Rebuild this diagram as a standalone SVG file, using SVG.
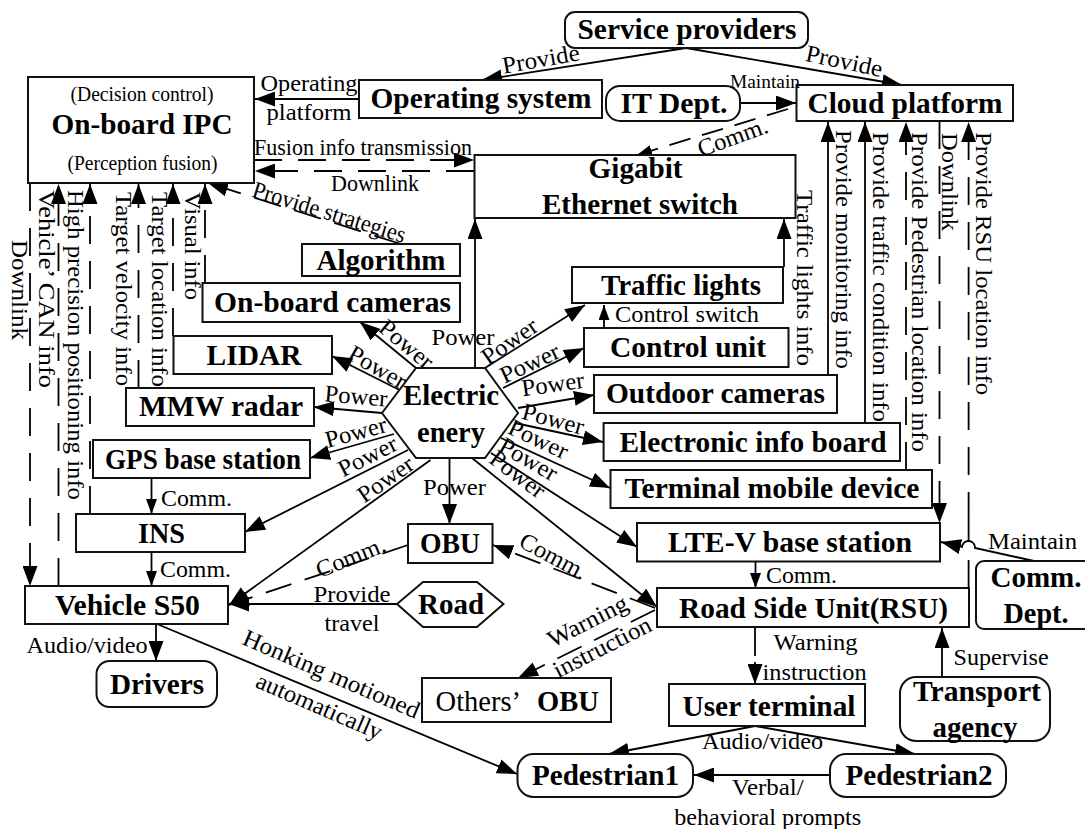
<svg xmlns="http://www.w3.org/2000/svg" width="1085" height="829" viewBox="0 0 1085 829">
<style>
text{font-family:"Liberation Serif","Times New Roman",serif;fill:#000}
.b{font-weight:bold;font-size:30px;text-anchor:middle}
.r{font-size:24px;text-anchor:middle}
.s{font-size:21px;text-anchor:middle}
.l{font-size:24px;text-anchor:start}
.v{font-size:22.5px;text-anchor:start}
.box{fill:#fff;stroke:#111;stroke-width:2}
.c{fill:none;stroke:#000;stroke-width:1.8}
.big{marker-end:url(#big)}
.sm{marker-end:url(#sm)}
.d{stroke-dasharray:28 17}
.d2{stroke-dasharray:27 14}
</style>
<defs>
<marker id="big" markerUnits="userSpaceOnUse" markerWidth="21" markerHeight="15" refX="20" refY="7.5" orient="auto"><path d="M0,0L20,7.5L0,15Z" fill="#000"/></marker>
<marker id="sm" markerUnits="userSpaceOnUse" markerWidth="16" markerHeight="11" refX="15" refY="5.5" orient="auto"><path d="M0,0L15,5.5L0,11Z" fill="#000"/></marker>
</defs>
<rect width="1085" height="829" fill="#fff"/>
<g id="connectors">
<path class="c big" d="M686,48L482,80"/>
<path class="c big" d="M686,48L902,85"/>
<path class="c big" d="M359,99L255,99"/>
<path class="c big" d="M740,103L796,103"/>
<path class="c sm" stroke-dasharray="22 12" d="M788,109L637,155"/>
<path class="c big" stroke-dasharray="28 16" d="M254,160L474,160"/>
<path class="c big" stroke-dasharray="28 16" d="M474,171L255,171"/>
<path class="c big" stroke-dasharray="28 14" d="M401,244L208,183"/>
<path class="c big d" d="M30,183L30,586"/>
<path class="c big d" d="M58.5,586L58.5,184"/>
<path class="c big d" d="M90,514L90,184"/>
<path class="c big d" d="M138.5,388L138.5,184"/>
<path class="c big d" d="M173,336L173,184"/>
<path class="c big d" d="M205,283L205,184"/>
<path class="c big" d="M475,368L475,219"/>
<path class="c big" d="M784,267L784,219"/>
<path class="c big" d="M828,375L828,122"/>
<path class="c big" d="M865,423L865,122"/>
<path class="c big d" d="M906,470L906,122"/>
<path class="c big d" d="M939.5,121L939.5,523"/>
<path class="c d" d="M968.6,588L968.6,550"/>
<path class="c" d="M968.6,541.5L968.6,520"/>
<path class="c big d" d="M968.6,520L968.6,122"/>
<path class="c big" d="M416,368L360,322"/>
<path class="c big" d="M399.5,390L332,356"/>
<path class="c big" d="M382,413L314,407"/>
<path class="c big" d="M394,434L310,458"/>
<path class="c big" d="M408,450L245,532"/>
<path class="c big" d="M430.5,460L229,605"/>
<path class="c big" d="M449.5,458L449.5,524"/>
<path class="c big d2" d="M408,545L229,605"/>
<path class="c big" d="M397,604L229,604"/>
<path class="c big" d="M156,624L156,661"/>
<path class="c big" d="M157,624L517,774"/>
<path class="c big" d="M485,368L585,305"/>
<path class="c big" d="M503,388L584,348"/>
<path class="c big" d="M518,408L594,395"/>
<path class="c big" d="M515,423L603,442"/>
<path class="c big" d="M501,438L610,488"/>
<path class="c big" d="M491,453L637,547"/>
<path class="c big" d="M472,458L657,607"/>
<path class="c big d2" d="M655,608L493,545"/>
<path class="c big d2" d="M655,610L518,678"/>
<path class="c sm" d="M604,328L604,305"/>
<path class="c sm" d="M151.5,478L151.5,514"/>
<path class="c sm" d="M151.5,552L151.5,586"/>
<path class="c sm" d="M755.5,561L755.5,588"/>
<path class="c" d="M755,627L755,656"/>
<path class="c big" d="M755,662L755,684"/>
<path class="c big" d="M942,677L942,628"/>
<path class="c big" d="M755,726L609,754"/>
<path class="c big" d="M755,726L915,754"/>
<path class="c big" d="M830,775L694,775"/>
<path class="c big" d="M1034,561L975,548A6.5,6.5 0 0 0 962,547L941,542"/>
</g>
<g id="ipc"><rect class="box" x="28" y="77" width="226" height="106"/>
<text class="s" x="142" y="101" textLength="143" lengthAdjust="spacingAndGlyphs">(Decision control)</text>
<text class="b" x="142" y="134" textLength="181" lengthAdjust="spacingAndGlyphs">On-board IPC</text>
<text class="s" x="142.4" y="170" textLength="150" lengthAdjust="spacingAndGlyphs">(Perception fusion)</text></g>
<g id="operating-system"><rect class="box" x="359" y="80" width="243" height="38"/><text class="b" x="481" y="108" textLength="221" lengthAdjust="spacingAndGlyphs">Operating system</text></g>
<g id="service-providers"><rect class="box" x="565" y="12" width="243" height="36" rx="10"/><text class="b" x="687" y="39" textLength="219" lengthAdjust="spacingAndGlyphs">Service providers</text></g>
<g id="it-dept"><rect class="box" x="606" y="86" width="134" height="35" rx="14"/><text class="b" x="674" y="113" textLength="107" lengthAdjust="spacingAndGlyphs">IT Dept.</text></g>
<g id="cloud-platform"><rect class="box" x="796.5" y="85" width="216.5" height="36"/><text class="b" x="905" y="113" textLength="195" lengthAdjust="spacingAndGlyphs">Cloud platform</text></g>
<g id="gigabit"><rect class="box" x="474.5" y="155" width="321" height="63"/><text class="b" x="635.6" y="178" textLength="94" lengthAdjust="spacingAndGlyphs">Gigabit</text><text class="b" x="640" y="214" textLength="196" lengthAdjust="spacingAndGlyphs">Ethernet switch</text></g>
<g id="algorithm"><rect class="box" x="302" y="244" width="158" height="32"/><text class="b" x="381" y="270" textLength="129" lengthAdjust="spacingAndGlyphs">Algorithm</text></g>
<g id="onboard-cameras"><rect class="box" x="202.5" y="283" width="257.5" height="39"/><text class="b" x="332.6" y="312" textLength="237" lengthAdjust="spacingAndGlyphs">On-board cameras</text></g>
<g id="lidar"><rect class="box" x="173.5" y="336" width="158.5" height="38"/><text class="b" x="254" y="365" textLength="95" lengthAdjust="spacingAndGlyphs">LIDAR</text></g>
<g id="mmw-radar"><rect class="box" x="126" y="388" width="188" height="38"/><text class="b" x="221" y="416" textLength="164" lengthAdjust="spacingAndGlyphs">MMW radar</text></g>
<g id="gps"><rect class="box" x="93" y="440" width="217" height="38"/><text class="b" x="203" y="469" textLength="196" lengthAdjust="spacingAndGlyphs">GPS base station</text></g>
<g id="ins"><rect class="box" x="76" y="514" width="169" height="38"/><text class="b" x="161.5" y="543" textLength="47" lengthAdjust="spacingAndGlyphs">INS</text></g>
<g id="vehicle"><rect class="box" x="25" y="586" width="203" height="38"/><text class="b" x="127.4" y="615" textLength="145" lengthAdjust="spacingAndGlyphs">Vehicle S50</text></g>
<g id="drivers"><rect class="box" x="96.5" y="661" width="120.5" height="46" rx="13"/><text class="b" x="157" y="694" textLength="94" lengthAdjust="spacingAndGlyphs">Drivers</text></g>
<g id="electric"><path class="box" d="M382,413L416,368L485,368L518,413L485,458L416,458Z"/><text class="b" x="451" y="405" textLength="96" lengthAdjust="spacingAndGlyphs">Electric</text><text class="b" x="451" y="442" textLength="68" lengthAdjust="spacingAndGlyphs">enery</text></g>
<g id="obu"><rect class="box" x="408" y="524" width="84.5" height="39"/><text class="b" x="450" y="553" textLength="60" lengthAdjust="spacingAndGlyphs">OBU</text></g>
<g id="road"><path class="box" d="M397,604L423,582L477,582L503.5,604L477,627L423,627Z"/><text class="b" x="451" y="614" textLength="66" lengthAdjust="spacingAndGlyphs">Road</text></g>
<g id="traffic-lights"><rect class="box" x="572" y="267" width="211" height="36"/><text class="b" x="681" y="295" textLength="160" lengthAdjust="spacingAndGlyphs">Traffic lights</text></g>
<g id="control-unit"><rect class="box" x="584" y="328" width="204.5" height="39"/><text class="b" x="688" y="357" textLength="156" lengthAdjust="spacingAndGlyphs">Control unit</text></g>
<g id="outdoor-cameras"><rect class="box" x="594" y="375" width="243" height="38"/><text class="b" x="715.5" y="403" textLength="219" lengthAdjust="spacingAndGlyphs">Outdoor cameras</text></g>
<g id="info-board"><rect class="box" x="603.6" y="423" width="296.4" height="38"/><text class="b" x="753" y="452" textLength="267" lengthAdjust="spacingAndGlyphs">Electronic info board</text></g>
<g id="terminal"><rect class="box" x="610.5" y="470" width="321.5" height="38"/><text class="b" x="772" y="498" textLength="295" lengthAdjust="spacingAndGlyphs">Terminal mobile device</text></g>
<g id="lte"><rect class="box" x="637" y="523" width="303" height="38.5"/><text class="b" x="790" y="552" textLength="244" lengthAdjust="spacingAndGlyphs">LTE-V base station</text></g>
<g id="rsu"><rect class="box" x="657" y="588" width="312" height="39"/><text class="b" x="813.6" y="618" textLength="269" lengthAdjust="spacingAndGlyphs">Road Side Unit(RSU)</text></g>
<g id="comm-dept"><rect class="box" x="976" y="561" width="130" height="68" rx="8"/><text class="b" x="1036" y="587" textLength="91" lengthAdjust="spacingAndGlyphs">Comm.</text><text class="b" x="1036" y="623" textLength="65" lengthAdjust="spacingAndGlyphs">Dept.</text></g>
<g id="others-obu"><rect class="box" x="422" y="678" width="189" height="44"/><text x="435.6" y="711" font-size="28.5">Others’ <tspan x="537" font-weight="bold">OBU</tspan></text></g>
<g id="user-terminal"><rect class="box" x="669" y="684" width="196" height="42"/><text class="b" x="769" y="716" textLength="173" lengthAdjust="spacingAndGlyphs">User terminal</text></g>
<g id="transport"><rect class="box" x="900" y="677" width="150" height="64" rx="16"/><text class="b" x="977" y="701" textLength="128" lengthAdjust="spacingAndGlyphs">Transport</text><text class="b" x="975" y="737" textLength="85" lengthAdjust="spacingAndGlyphs">agency</text></g>
<g id="pedestrian1"><rect class="box" x="517.5" y="754" width="175.5" height="43" rx="16"/><text class="b" x="605.5" y="785" textLength="147" lengthAdjust="spacingAndGlyphs">Pedestrian1</text></g>
<g id="pedestrian2"><rect class="box" x="830" y="754" width="176" height="43" rx="16"/><text class="b" x="919" y="785" textLength="147" lengthAdjust="spacingAndGlyphs">Pedestrian2</text></g>
<g id="labels">
<text class="r" transform="translate(541,60) rotate(-10)" y="7" textLength="78" lengthAdjust="spacingAndGlyphs">Provide</text>
<text class="r" transform="translate(844,62) rotate(12)" y="7" textLength="78" lengthAdjust="spacingAndGlyphs">Provide</text>
<text class="r" x="309" y="91" textLength="97" lengthAdjust="spacingAndGlyphs">Operating</text>
<text class="r" x="309" y="120" textLength="85" lengthAdjust="spacingAndGlyphs">platform</text>
<text x="765" y="88" font-size="19" text-anchor="middle" textLength="70" lengthAdjust="spacingAndGlyphs">Maintain</text>
<text class="r" transform="translate(733,138) rotate(-20)" y="7" textLength="73" lengthAdjust="spacingAndGlyphs">Comm.</text>
<text class="r" x="363" y="155" textLength="218" lengthAdjust="spacingAndGlyphs">Fusion info transmission</text>
<text class="r" x="375" y="191" textLength="88" lengthAdjust="spacingAndGlyphs">Downlink</text>
<text class="r" transform="translate(329,213) rotate(17)" y="7" textLength="159" lengthAdjust="spacingAndGlyphs">Provide strategies</text>
<text class="v" transform="translate(12,240) rotate(90)" textLength="100" lengthAdjust="spacingAndGlyphs">Downlink</text>
<text class="v" transform="translate(38.5,190) rotate(90)" textLength="198" lengthAdjust="spacingAndGlyphs">Vehicle’ CAN info</text>
<text class="v" transform="translate(68,190) rotate(90)" textLength="310" lengthAdjust="spacingAndGlyphs">High precision positioning info</text>
<text class="v" transform="translate(115.5,192) rotate(90)" textLength="194" lengthAdjust="spacingAndGlyphs">Target velocity info</text>
<text class="v" transform="translate(151.5,192) rotate(90)" textLength="195" lengthAdjust="spacingAndGlyphs">Target location info</text>
<text class="v" transform="translate(185,192) rotate(90)" textLength="108" lengthAdjust="spacingAndGlyphs">Visual info</text>
<text class="v" transform="translate(796.5,190) rotate(90)" textLength="176" lengthAdjust="spacingAndGlyphs">Traffic lights info</text>
<text class="v" transform="translate(835.5,130) rotate(90)" textLength="239" lengthAdjust="spacingAndGlyphs">Provide monitoring info</text>
<text class="v" transform="translate(872.6,132) rotate(90)" textLength="290" lengthAdjust="spacingAndGlyphs">Provide traffic condition info</text>
<text class="v" transform="translate(912,132) rotate(90)" textLength="320" lengthAdjust="spacingAndGlyphs">Provide Pedestrian location info</text>
<text class="v" transform="translate(942,133) rotate(90)" textLength="98" lengthAdjust="spacingAndGlyphs">Downlink</text>
<text class="v" transform="translate(976,132) rotate(90)" textLength="263" lengthAdjust="spacingAndGlyphs">Provide RSU location info</text>
<text class="r" transform="translate(406,345) rotate(40)" y="7" textLength="63" lengthAdjust="spacingAndGlyphs">Power</text>
<text class="r" transform="translate(377,368) rotate(30)" y="7" textLength="63" lengthAdjust="spacingAndGlyphs">Power</text>
<text class="r" transform="translate(356,397) rotate(5)" y="7" textLength="63" lengthAdjust="spacingAndGlyphs">Power</text>
<text class="r" transform="translate(356,433) rotate(-15)" y="7" textLength="63" lengthAdjust="spacingAndGlyphs">Power</text>
<text class="r" transform="translate(368,457) rotate(-27)" y="7" textLength="63" lengthAdjust="spacingAndGlyphs">Power</text>
<text class="r" transform="translate(386,480) rotate(-35)" y="7" textLength="63" lengthAdjust="spacingAndGlyphs">Power</text>
<text class="r" x="463" y="345" textLength="63" lengthAdjust="spacingAndGlyphs">Power</text>
<text class="r" x="454.5" y="495" textLength="63" lengthAdjust="spacingAndGlyphs">Power</text>
<text class="r" transform="translate(510,342) rotate(-35)" y="7" textLength="63" lengthAdjust="spacingAndGlyphs">Power</text>
<text class="r" transform="translate(530,364) rotate(-25)" y="7" textLength="63" lengthAdjust="spacingAndGlyphs">Power</text>
<text class="r" transform="translate(553,385) rotate(-8)" y="7" textLength="63" lengthAdjust="spacingAndGlyphs">Power</text>
<text class="r" transform="translate(553,420) rotate(15)" y="7" textLength="63" lengthAdjust="spacingAndGlyphs">Power</text>
<text class="r" transform="translate(538,440) rotate(25)" y="7" textLength="63" lengthAdjust="spacingAndGlyphs">Power</text>
<text class="r" transform="translate(528,460) rotate(30)" y="7" textLength="63" lengthAdjust="spacingAndGlyphs">Power</text>
<text class="r" transform="translate(517,475) rotate(37)" y="7" textLength="63" lengthAdjust="spacingAndGlyphs">Power</text>
<text class="r" transform="translate(351,558) rotate(-22)" y="7" textLength="73" lengthAdjust="spacingAndGlyphs">Comm.</text>
<text class="r" transform="translate(553,557) rotate(28)" y="7" textLength="73" lengthAdjust="spacingAndGlyphs">Comm.</text>
<text class="r" x="352" y="602" textLength="77" lengthAdjust="spacingAndGlyphs">Provide</text>
<text class="r" x="352" y="631" textLength="55" lengthAdjust="spacingAndGlyphs">travel</text>
<text class="r" x="87" y="653" textLength="121" lengthAdjust="spacingAndGlyphs">Audio/video</text>
<text class="r" transform="translate(331,675) rotate(23.3)" y="7" textLength="190" lengthAdjust="spacingAndGlyphs">Honking motioned</text>
<text class="r" transform="translate(319,707) rotate(23.3)" y="7" textLength="135" lengthAdjust="spacingAndGlyphs">automatically</text>
<text class="r" transform="translate(588,622) rotate(-27)" y="7" textLength="87" lengthAdjust="spacingAndGlyphs">Warning</text>
<text class="r" transform="translate(602.6,648) rotate(-27)" y="7" textLength="107" lengthAdjust="spacingAndGlyphs">instruction</text>
<text class="r" x="687" y="322" textLength="144" lengthAdjust="spacingAndGlyphs">Control switch</text>
<text class="l" x="161" y="506" textLength="71" lengthAdjust="spacingAndGlyphs">Comm.</text>
<text class="l" x="160" y="577" textLength="71" lengthAdjust="spacingAndGlyphs">Comm.</text>
<text class="l" x="766" y="583" textLength="71" lengthAdjust="spacingAndGlyphs">Comm.</text>
<text class="r" x="815.6" y="650" textLength="84" lengthAdjust="spacingAndGlyphs">Warning</text>
<text class="r" x="814.6" y="680" textLength="104" lengthAdjust="spacingAndGlyphs">instruction</text>
<text class="l" x="953.6" y="665" textLength="95" lengthAdjust="spacingAndGlyphs">Supervise</text>
<text class="r" x="762.5" y="749" textLength="121" lengthAdjust="spacingAndGlyphs">Audio/video</text>
<text class="r" x="767.7" y="795" textLength="72" lengthAdjust="spacingAndGlyphs">Verbal/</text>
<text class="r" x="767.7" y="825" textLength="187" lengthAdjust="spacingAndGlyphs">behavioral prompts</text>
<text class="l" x="988" y="549" textLength="89" lengthAdjust="spacingAndGlyphs">Maintain</text>
</g>
</svg>
